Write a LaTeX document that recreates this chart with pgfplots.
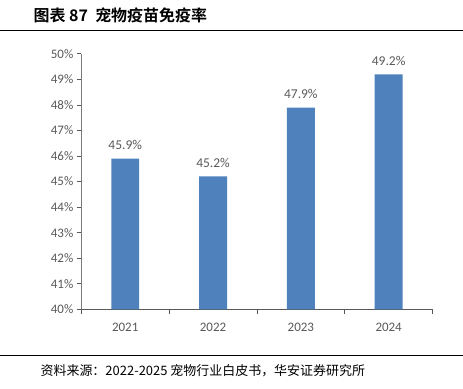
\documentclass[border=0pt]{standalone}
\usepackage{pgfplots}
\pgfplotsset{compat=1.18}
\usepackage{fontspec}
\setmainfont{Carlito}
\newfontfamily\cjk{Noto Sans CJK SC}
\newfontfamily\cjkb{Noto Sans CJK SC Bold}
\definecolor{barblue}{HTML}{4F81BD}
\definecolor{txtgray}{HTML}{595959}
\begin{document}
\begin{tikzpicture}[x=1pt,y=1pt]
\path[fill=white] (0,0) rectangle (463,389);
\node[anchor=west,inner sep=0pt] at (33,374) {\cjkb\fontsize{16}{18}\selectfont 图表 87\ \ 宠物疫苗免疫率};
\draw[black,line width=1pt] (0,358) -- (463,358);
\draw[black,line width=0.8pt] (0,33) -- (463,33);
\node[anchor=west,inner sep=0pt] at (40,18) {\cjk\fontsize{13}{15}\selectfont 资料来源：2022-2025 宠物行业白皮书，华安证券研究所};
\begin{axis}[
  at={(81pt,79pt)}, anchor=south west,
  scale only axis, width=352pt, height=256pt,
  xmin=-0.5, xmax=3.5, ymin=40, ymax=50,
  axis x line*=bottom, axis y line*=left,
  x axis line style={txtgray, line width=0.8pt, -},
  y axis line style={txtgray!80, line width=0.8pt, -},
  xtick={0,1,2,3}, xticklabels={2021,2022,2023,2024},
  major x tick style={draw=none},
  minor xtick={-0.5,0.5,1.5,2.5,3.5},
  minor x tick style={txtgray, line width=0.8pt},
  minor tick length=4.5pt,
  ytick={40,41,...,50},
  yticklabel={\pgfmathprintnumber{\tick}\%},
  y tick style={txtgray, line width=0.8pt},
  major tick length=4.5pt,
  tick align=outside,
  ticklabel style={font=\fontsize{13}{15}\selectfont, text=txtgray},
  xticklabel style={yshift=-6pt},
  /pgf/number format/assume math mode=true,
  ybar, bar width=28pt,
  nodes near coords={\pgfmathprintnumber[fixed,precision=1,fixed zerofill]{\pgfplotspointmeta}\%},
  nodes near coords style={font=\fontsize{13.5}{15}\selectfont, text=txtgray, yshift=5pt},
  clip=false,
]
\addplot[fill=barblue, draw=none] coordinates {(0,45.9) (1,45.2) (2,47.9) (3,49.2)};
\end{axis}
\end{tikzpicture}
\end{document}
